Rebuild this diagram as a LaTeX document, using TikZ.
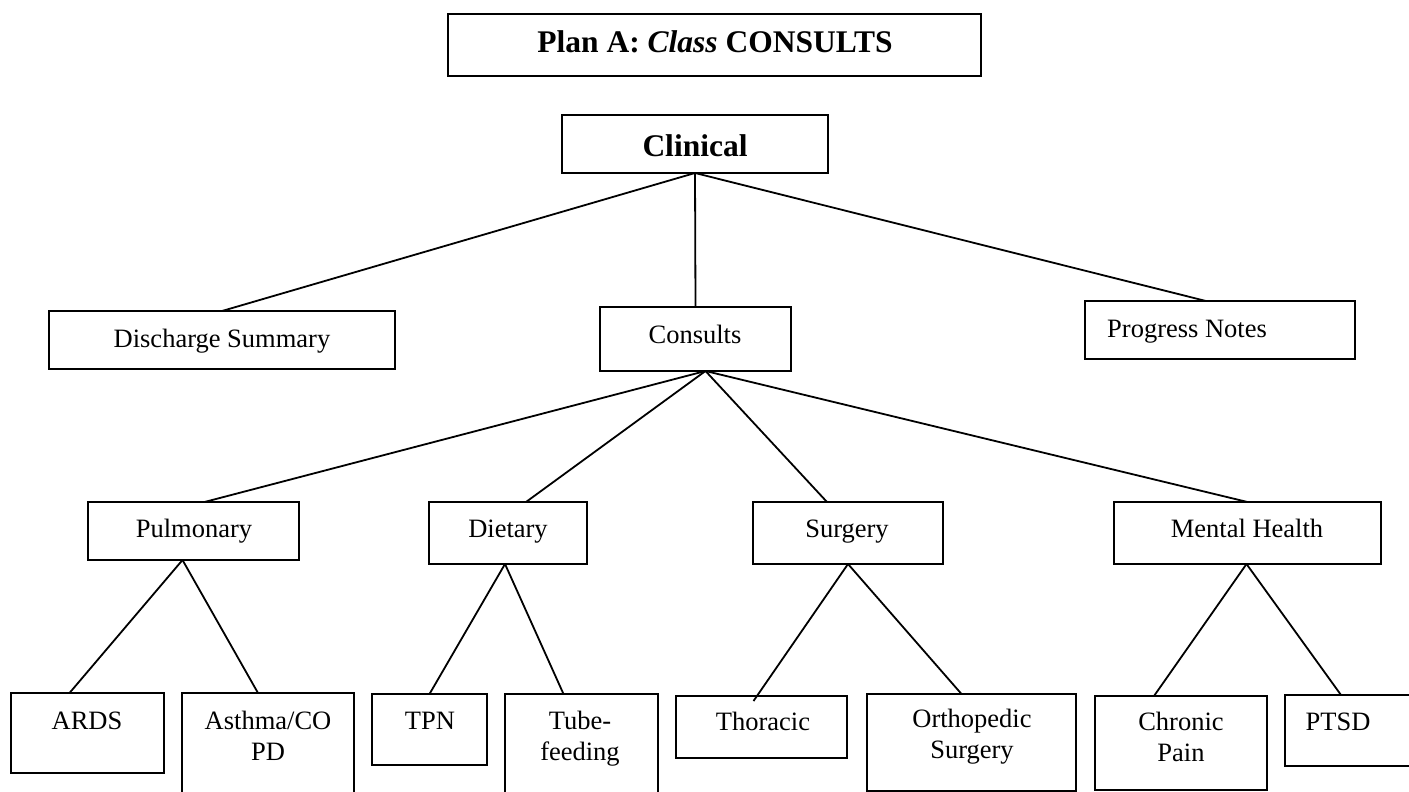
\documentclass[tikz,border=0pt]{standalone}
\usepackage{fontspec}
\setmainfont{Liberation Serif}
\begin{document}
\begin{tikzpicture}[x=1pt,y=-1pt,
  box/.style={draw=black, line width=2pt, rectangle, inner sep=0pt, outer sep=0pt},
  conn/.style={draw=black, line width=1.8pt},
  txt/.style={inner sep=0pt, anchor=base, font=\fontsize{26.5}{31}\selectfont},
  mtxt/.style={inner sep=0pt, anchor=base, align=center, font=\fontsize{26.5}{31}\selectfont},
  btxt/.style={inner sep=0pt, anchor=base, font=\fontsize{31.5}{36}\selectfont\bfseries}]
\useasboundingbox (0,0) rectangle (1409,792);
\clip (0,0) rectangle (1409,792);
\fill[white] (0,0) rectangle (1409,792);
\newcommand{\mybox}[5]{\node[box, minimum width={#4-#2}, minimum height={#5-#3}] (#1) at ({(#2+#4)/2},{(#3+#5)/2}) {};}
% boxes
\mybox{title}{448}{14}{981}{76}
\mybox{clin}{562}{115}{828}{173}
\mybox{disc}{49}{311}{395}{369}
\mybox{cons}{600}{307}{791}{371}
\mybox{prog}{1085}{301}{1355}{359}
\mybox{pulm}{88}{502}{299}{560}
\mybox{diet}{429}{502}{587}{564}
\mybox{surg}{753}{502}{943}{564}
\mybox{ment}{1114}{502}{1381}{564}
\mybox{ards}{11}{693}{164}{773}
\mybox{asth}{182}{693}{354}{810}
\mybox{tpn}{372}{694}{487}{765}
\mybox{tube}{505}{694}{658}{810}
\mybox{thor}{676}{696}{847}{758}
\mybox{orth}{867}{694}{1076}{791}
\mybox{chro}{1095}{696}{1267}{790}
\mybox{ptsd}{1285}{695}{1420}{766}
% texts
\node[btxt] (titlet) at (715,53) {Plan A: \textit{Class} CONSULTS};
\node[btxt] (clint) at (695,156) {Clinical};
\node[txt] (disct) at (222,347) {Discharge Summary};
\node[txt] (const) at (695,343) {Consults};
\node[txt, anchor=base west] (progt) at (1107,337) {Progress Notes};
\node[txt] (pulmt) at (194,537) {Pulmonary};
\node[txt] (dictt) at (508,537) {Dietary};
\node[txt] (surgt) at (847,537) {Surgery};
\node[txt] (mentt) at (1247,537) {Mental Health};
\node[txt] (ardst) at (87,729) {ARDS};
\node[mtxt] (astht) at (268,760) {Asthma/CO\\PD};
\node[txt] (tpnt) at (430,729) {TPN};
\node[mtxt] (tubet) at (580,760) {Tube-\\feeding};
\node[txt] (thort) at (763,730) {Thoracic};
\node[mtxt] (ortht) at (972,758) {Orthopedic\\Surgery};
\node[mtxt] (chrot) at (1181,761) {Chronic\\Pain};
\node[txt] (ptsdt) at (1338,730) {PTSD};
% connectors
\draw[conn] (clin.south) -- (disc.north);
\draw[conn] (clin.south) -- (cons.north);
\draw[conn] (clin.south) -- ([xshift=-14pt]prog.north);
\coordinate (consap) at ([xshift=10pt]cons.south);
\draw[conn] (consap) -- ([xshift=11pt]pulm.north);
\draw[conn] (consap) -- ([xshift=18pt]diet.north);
\draw[conn] (consap) -- ([xshift=-21pt]surg.north);
\draw[conn] (consap) -- (ment.north);
\coordinate (pulmap) at ([xshift=-11pt]pulm.south);
\draw[conn] (pulmap) -- ([xshift=-18pt]ards.north);
\draw[conn] (pulmap) -- ([xshift=-10pt]asth.north);
\coordinate (dietap) at ([xshift=-3pt]diet.south);
\draw[conn] (dietap) -- (tpn.north);
\draw[conn] (dietap) -- ([xshift=-18pt]tube.north);
\draw[conn] (surg.south) -- ([xshift=-8pt,yshift=-5pt]thor.north);
\draw[conn] (surg.south) -- ([xshift=-10pt]orth.north);
\coordinate (mentap) at ([xshift=-1pt]ment.south);
\draw[conn] (mentap) -- ([xshift=-27pt]chro.north);
\draw[conn] (mentap) -- ([xshift=-11.5pt]ptsd.north);
\end{tikzpicture}
\end{document}
